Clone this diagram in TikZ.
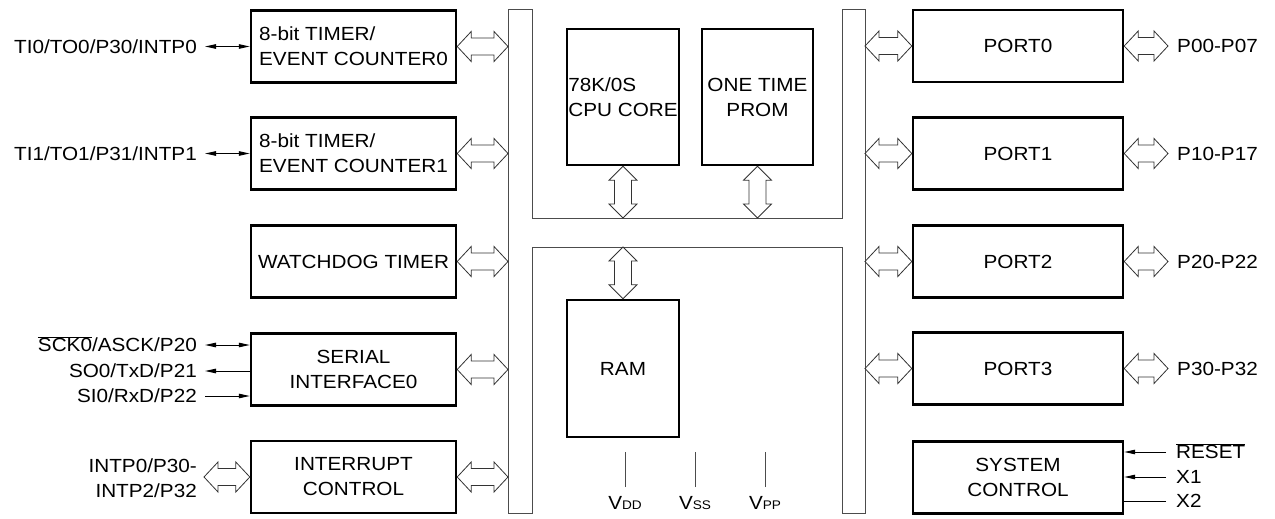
\documentclass[tikz,border=0pt]{standalone}
\usepackage{fontspec}
\setmainfont{Liberation Sans}[FakeStretch=1.09]
\usetikzlibrary{arrows.meta,calc}

\newcommand\dgfont{\fontsize{19pt}{25pt}\selectfont}
\newcommand\subfont{\fontsize{12.5pt}{12.5pt}\selectfont}

% hollow two-headed bus arrow, horizontal: #1 left end, #2 right end
\newcommand\hbiarrow[2]{%
  \draw[busarrow] let \p1=(#1), \p2=(#2) in
    (\x1,\y1) -- (\x1+14pt,\y1+15pt) -- (\x1+14pt,\y1+8.5pt) --
    (\x2-14pt,\y1+8.5pt) -- (\x2-14pt,\y1+15pt) -- (\x2,\y1) --
    (\x2-14pt,\y1-15pt) -- (\x2-14pt,\y1-8.5pt) --
    (\x1+14pt,\y1-8.5pt) -- (\x1+14pt,\y1-15pt) -- cycle;}
% hollow two-headed bus arrow, vertical: #1 upper end, #2 lower end
\newcommand\vbiarrow[2]{%
  \draw[busarrow] let \p1=(#1), \p2=(#2) in
    (\x1,\y1) -- (\x1+14pt,\y1-14pt) -- (\x1+8.5pt,\y1-14pt) --
    (\x1+8.5pt,\y2+14pt) -- (\x1+14pt,\y2+14pt) -- (\x1,\y2) --
    (\x1-14pt,\y2+14pt) -- (\x1-8.5pt,\y2+14pt) --
    (\x1-8.5pt,\y1-14pt) -- (\x1-14pt,\y1-14pt) -- cycle;}

\begin{document}
\begin{tikzpicture}[x=1pt,y=-1pt,
  every node/.style={font=\dgfont},
  blk/.style={draw, line width=2.4pt, inner sep=0pt, align=center},
  lblk/.style={blk, minimum width=205pt, minimum height=72pt},
  rblk/.style={blk, minimum width=210pt, minimum height=72pt},
  mblk/.style={blk, minimum width=112pt, minimum height=136pt},
  lbl/.style={inner sep=0pt, text height=13.6pt, text depth=0pt},
  busline/.style={draw=black!70, line width=1pt},
  busarrow/.style={draw=black!80, fill=white, line width=0.8pt, line join=miter},
  sig/.style={line width=1pt, -{Triangle[length=11pt,width=4.5pt]}},
  sigboth/.style={line width=1pt, {Triangle[length=11pt,width=4.5pt]}-{Triangle[length=11pt,width=4.5pt]}},
  plain/.style={line width=1pt},
  pin/.style={draw=black!70, line width=1pt}]

\useasboundingbox (0,0) rectangle (1275,519);

% internal bus
\draw[busline] (508,10) -- (532,10) -- (532,218) -- (842,218) -- (842,10)
  -- (865,10) -- (865,513) -- (842,513) -- (842,247) -- (532,247)
  -- (532,513) -- (508,513) -- cycle;
\coordinate (busL) at (508,0);
\coordinate (busR) at (865,0);
\coordinate (busTop) at (0,218);
\coordinate (busBot) at (0,247);

% left column
\node[lblk, align=left] (tm0) at (353.5,46.5) {8-bit TIMER/\\EVENT COUNTER0};
\node[lblk, align=left] (tm1) at (353.5,153.5) {8-bit TIMER/\\EVENT COUNTER1};
\node[lblk] (wdt) at (353.5,261.5) {WATCHDOG TIMER};
\node[lblk] (sio) at (353.5,369.5) {SERIAL\\INTERFACE0};
\node[lblk] (intc) at (353.5,477) {INTERRUPT\\CONTROL};

% core
\node[mblk, align=left] (cpu) at (623,97) {78K/0S\\CPU CORE};
\node[mblk, minimum width=111pt] (prom) at (757.5,97) {ONE TIME\\PROM};
\node[mblk, minimum height=137pt] (ram) at (623,368.5) {RAM};

% right column
\node[rblk] (p0) at (1018,46) {PORT0};
\node[rblk] (p1) at (1018,153.5) {PORT1};
\node[rblk] (p2) at (1018,261.5) {PORT2};
\node[rblk] (p3) at (1018,368.5) {PORT3};
\node[rblk] (sys) at (1018,477.5) {SYSTEM\\CONTROL};

% pin labels, left
\node[lbl, anchor=east] (ltm0) at (197,46.5) {TI0/TO0/P30/INTP0};
\node[lbl, anchor=east] (ltm1) at (197,153.5) {TI1/TO1/P31/INTP1};
\node[lbl, anchor=east] (lsck) at (197,345) {$\overline{\mbox{SCK0}}$/ASCK/P20};
\node[lbl, anchor=east] (lso) at (197,371) {SO0/TxD/P21};
\node[lbl, anchor=east] (lsi) at (197,396) {SI0/RxD/P22};
\node[inner sep=0pt, anchor=east, align=right] (lint) at (197,478) {INTP0/P30-\\INTP2/P32};

% pin labels, right
\node[lbl, anchor=west] (lp0) at (1177,46) {P00-P07};
\node[lbl, anchor=west] (lp1) at (1177,153.5) {P10-P17};
\node[lbl, anchor=west] (lp2) at (1177,261.5) {P20-P22};
\node[lbl, anchor=west] (lp3) at (1177,368.5) {P30-P32};
\node[lbl, anchor=west] (lrst) at (1176,452) {$\overline{\mbox{RESET}}$};
\node[lbl, anchor=west] (lx1) at (1176,477) {X1};
\node[lbl, anchor=west] (lx2) at (1176,501) {X2};

% supply pins
\node[inner sep=0pt, text height=13.6pt, text depth=0pt] (vdd) at (625,503) {V{\subfont DD}};
\node[inner sep=0pt, text height=13.6pt, text depth=0pt] (vss) at (695,503) {V{\subfont SS}};
\node[inner sep=0pt, text height=13.6pt, text depth=0pt] (vpp) at (765,503) {V{\subfont PP}};
\foreach \v in {vdd,vss,vpp}
  \draw[pin] ([yshift=9pt]\v.north) -- ([yshift=44pt]\v.north);

% single signal lines
\draw[sigboth] ([xshift=8pt]ltm0.east) -- (tm0.west);
\draw[sigboth] ([xshift=8pt]ltm1.east) -- (tm1.west);
\draw[sigboth] ([xshift=8pt]lsck.east) -- (lsck.east -| sio.west);
\draw[sig] (lso.east -| sio.west) -- ([xshift=8pt]lso.east);
\draw[sig] ([xshift=8pt]lsi.east) -- (lsi.east -| sio.west);
\draw[sig] ([xshift=-10pt]lrst.west) -- (lrst.west -| sys.east);
\draw[sig] ([xshift=-10pt]lx1.west) -- (lx1.west -| sys.east);
\draw[plain] ([xshift=-10pt]lx2.west) -- (lx2.west -| sys.east);

% bus connections, left
\hbiarrow{tm0.east}{tm0.east -| busL}
\hbiarrow{tm1.east}{tm1.east -| busL}
\hbiarrow{wdt.east}{wdt.east -| busL}
\hbiarrow{sio.east}{sio.east -| busL}
\hbiarrow{intc.east}{intc.east -| busL}
\hbiarrow{[xshift=7pt]lint.east |- intc.west}{intc.west}

% bus connections, core
\vbiarrow{cpu.south}{cpu.south |- busTop}
\vbiarrow{prom.south}{prom.south |- busTop}
\vbiarrow{ram.north |- busBot}{ram.north}

% bus connections, right
\hbiarrow{p0.west -| busR}{p0.west}
\hbiarrow{p1.west -| busR}{p1.west}
\hbiarrow{p2.west -| busR}{p2.west}
\hbiarrow{p3.west -| busR}{p3.west}
\hbiarrow{p0.east}{[xshift=-9pt]lp0.west}
\hbiarrow{p1.east}{[xshift=-9pt]lp1.west}
\hbiarrow{p2.east}{[xshift=-9pt]lp2.west}
\hbiarrow{p3.east}{[xshift=-9pt]lp3.west}
\end{tikzpicture}
\end{document}
